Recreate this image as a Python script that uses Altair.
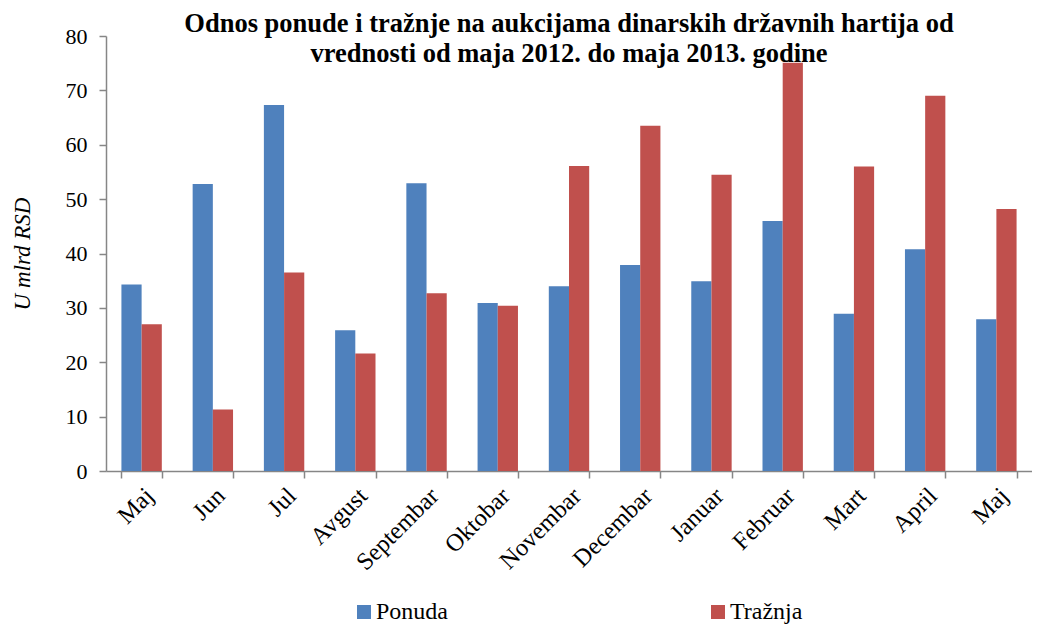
import altair as alt
import pandas as pd

months = ["Maj 2012", "Jun", "Jul", "Avgust", "Septembar", "Oktobar", "Novembar",
          "Decembar", "Januar", "Februar", "Mart", "April", "Maj 2013"]
ponuda = [34.3, 52.8, 67.3, 25.9, 52.9, 30.9, 34.0, 37.9, 34.9, 46.0, 28.9, 40.8, 27.9]
traznja = [27.0, 11.3, 36.5, 21.6, 32.7, 30.4, 56.1, 63.5, 54.5, 75.1, 56.0, 69.0, 48.2]
series = ["Ponuda", "Tražnja"]
colors = ["#4F81BD", "#C0504D"]

rows = []
for m, p, t in zip(months, ponuda, traznja):
    rows.append({"Mesec": m, "Serija": series[0], "Vrednost": p})
    rows.append({"Mesec": m, "Serija": series[1], "Vrednost": t})
df = pd.DataFrame(rows)

FONT = "Liberation Serif"

chart = alt.Chart(df).mark_bar().encode(
    x=alt.X("Mesec:N", sort=months,
            scale=alt.Scale(paddingInner=0.433, paddingOuter=0.2165),
            axis=alt.Axis(title=None, labelAngle=-45, labelAlign="right",
                          labelBaseline="middle", labelPadding=14, labelOffset=8,
                          labelFont=FONT, labelFontSize=24.5, labelColor="black",
                          tickBand="extent", tickSize=7, tickColor="#868686",
                          domainColor="#868686", domainWidth=1.5, tickWidth=1.5,
                          labelExpr="split(datum.label, ' ')[0]")),
    xOffset=alt.XOffset("Serija:N", sort=series, scale=alt.Scale(paddingInner=0, paddingOuter=0)),
    y=alt.Y("Vrednost:Q", scale=alt.Scale(domain=[0, 80], nice=False),
            axis=alt.Axis(title="U mlrd RSD", values=list(range(0, 90, 10)),
                          titleFont=FONT, titleFontSize=23, titleFontStyle="italic",
                          titleFontWeight="normal", titleColor="black", titlePadding=31,
                          labelFont=FONT, labelFontSize=22, labelColor="black",
                          labelPadding=12, tickSize=7, tickColor="#868686",
                          domainColor="#868686", domainWidth=1.5, tickWidth=1.5,
                          grid=False)),
    color=alt.Color("Serija:N", sort=series,
                    scale=alt.Scale(domain=series, range=colors),
                    legend=alt.Legend(title=None, orient="none", direction="horizontal",
                                      legendX=246, legendY=564,
                                      symbolType="square", symbolSize=196,
                                      symbolStrokeWidth=0, labelFont=FONT,
                                      labelFontSize=24, labelColor="black",
                                      labelOffset=0, columnPadding=258)),
).properties(
    width=926,
    height=435,
    padding={"left": 98, "top": 28, "right": 0, "bottom": 154},
    autosize=alt.AutoSizeParams(type="none"),
    title=alt.TitleParams(
        text=["Odnos ponude i tražnje na aukcijama dinarskih državnih hartija od",
              "vrednosti od maja 2012. do maja 2013. godine"],
        font=FONT, fontSize=26.5, fontWeight="bold", color="black",
        anchor="middle", frame="group", offset=-42, lineHeight=30),
).configure_view(stroke=None)

chart.save("out.html", embed_options={"renderer": "svg", "actions": False})
